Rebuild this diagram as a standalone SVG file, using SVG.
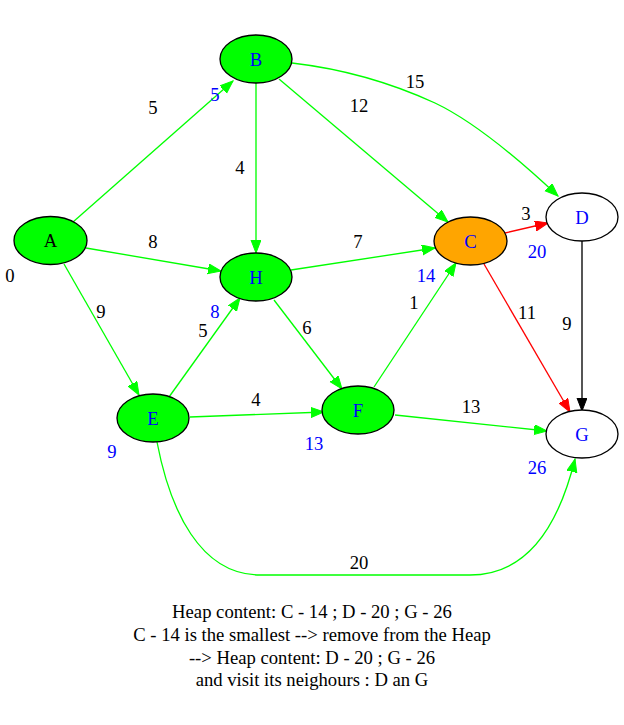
<svg xmlns="http://www.w3.org/2000/svg" width="624" height="725" viewBox="0 0 624 725">
<style>
text{font-family:"Liberation Serif","Times New Roman",serif;font-size:18.67px;text-anchor:middle}
.node ellipse{stroke:#000;stroke-width:1.33}
.g{fill:#00ff00}
.o{fill:#ffa500}
.w{fill:#fff}
.bl{fill:#0000ff}
.k{fill:#000}
.e{fill:none;stroke-width:1.33}
.eg{stroke:#00ff00}
.er{stroke:#ff0000}
.ek{stroke:#000}
</style>
<defs>
<marker id="ag" markerUnits="userSpaceOnUse" markerWidth="14" markerHeight="11" refX="13" refY="5" orient="auto"><path d="M0,0 L13,5 L0,10 z" fill="#00ff00" stroke="#00ff00"/></marker>
<marker id="ar" markerUnits="userSpaceOnUse" markerWidth="14" markerHeight="11" refX="13" refY="5" orient="auto"><path d="M0,0 L13,5 L0,10 z" fill="#ff0000" stroke="#ff0000"/></marker>
<marker id="ak" markerUnits="userSpaceOnUse" markerWidth="14" markerHeight="11" refX="13" refY="5" orient="auto"><path d="M0,0 L13,5 L0,10 z" fill="#000" stroke="#000"/></marker>
</defs>
<rect width="624" height="725" fill="#fff"/>
<g id="edges">
<g id="A-B"><path class="e eg" d="M73,222 L233,81" marker-end="url(#ag)"/><text x="153" y="114" class="k">5</text></g>
<g id="A-H"><path class="e eg" d="M86,248 L221,271" marker-end="url(#ag)"/><text x="153" y="248" class="k">8</text></g>
<g id="A-E"><path class="e eg" d="M64,264 L139,395" marker-end="url(#ag)"/><text x="101" y="318" class="k">9</text></g>
<g id="B-H"><path class="e eg" d="M256,83 L256,253" marker-end="url(#ag)"/><text x="240" y="174" class="k">4</text></g>
<g id="B-C"><path class="e eg" d="M279,79 L448,222" marker-end="url(#ag)"/><text x="359" y="112" class="k">12</text></g>
<g id="B-D"><path class="e eg" d="M292,63 C335,68 385,80 435,103 C475,122 525,165 558,196" marker-end="url(#ag)"/><text x="415" y="88" class="k">15</text></g>
<g id="H-C"><path class="e eg" d="M291,270 L435,248" marker-end="url(#ag)"/><text x="358" y="248" class="k">7</text></g>
<g id="H-F"><path class="e eg" d="M274,300 L342,389" marker-end="url(#ag)"/><text x="307" y="334" class="k">6</text></g>
<g id="E-H"><path class="e eg" d="M169,397 L240,298" marker-end="url(#ag)"/><text x="203" y="337" class="k">5</text></g>
<g id="E-F"><path class="e eg" d="M190,417 L324,412" marker-end="url(#ag)"/><text x="256" y="406" class="k">4</text></g>
<g id="F-C"><path class="e eg" d="M374,387 L456,263" marker-end="url(#ag)"/><text x="414" y="309" class="k">1</text></g>
<g id="F-G"><path class="e eg" d="M395,415 L547,431" marker-end="url(#ag)"/><text x="471" y="413" class="k">13</text></g>
<g id="E-G"><path class="e eg" d="M157,442 C170,510 200,575 260,575 L470,575 C530,575 560,520 575,459" marker-end="url(#ag)"/><text x="359" y="569" class="k">20</text></g>
<g id="C-D"><path class="e er" d="M505,233 L548,223" marker-end="url(#ar)"/><text x="526" y="220" class="k">3</text></g>
<g id="C-G"><path class="e er" d="M484,264 L570,412" marker-end="url(#ar)"/><text x="527" y="319" class="k">11</text></g>
<g id="D-G"><path class="e ek" d="M582,241 L582,411" marker-end="url(#ak)"/><text x="567" y="330" class="k">9</text></g>
</g>
<g id="A" class="node"><ellipse cx="50.5" cy="240.5" rx="36.5" ry="24" class="g"/><text x="50.5" y="247" class="k">A</text><text x="10" y="282" class="k">0</text></g>
<g id="B" class="node"><ellipse cx="256" cy="59" rx="36" ry="24" class="g"/><text x="256" y="65.5" class="bl">B</text><text x="215" y="101" class="bl">5</text></g>
<g id="H" class="node"><ellipse cx="256" cy="277" rx="36" ry="24" class="g"/><text x="256" y="283.5" class="bl">H</text><text x="215" y="318" class="bl">8</text></g>
<g id="C" class="node"><ellipse cx="470.5" cy="241" rx="36.5" ry="24" class="o"/><text x="470.5" y="247.5" class="bl">C</text><text x="426" y="282" class="bl">14</text></g>
<g id="D" class="node"><ellipse cx="582" cy="217" rx="36" ry="24" class="w"/><text x="582" y="223.5" class="bl">D</text><text x="537" y="258" class="bl">20</text></g>
<g id="E" class="node"><ellipse cx="153" cy="418" rx="36" ry="24" class="g"/><text x="153" y="424.5" class="bl">E</text><text x="112" y="458" class="bl">9</text></g>
<g id="F" class="node"><ellipse cx="358" cy="410" rx="36" ry="24" class="g"/><text x="358" y="416.5" class="bl">F</text><text x="314" y="450" class="bl">13</text></g>
<g id="G" class="node"><ellipse cx="582" cy="434" rx="36" ry="24" class="w"/><text x="582" y="440.5" class="bl">G</text><text x="537" y="474" class="bl">26</text></g>
<g id="caption">
<text x="312" y="618" class="k">Heap content: C - 14 ; D - 20 ; G - 26</text>
<text x="312" y="641" class="k">C - 14 is the smallest --&gt; remove from the Heap</text>
<text x="312" y="663.5" class="k">--&gt; Heap content: D - 20 ; G - 26</text>
<text x="312" y="686" class="k">and visit its neighours : D an G</text>
</g>
</svg>
